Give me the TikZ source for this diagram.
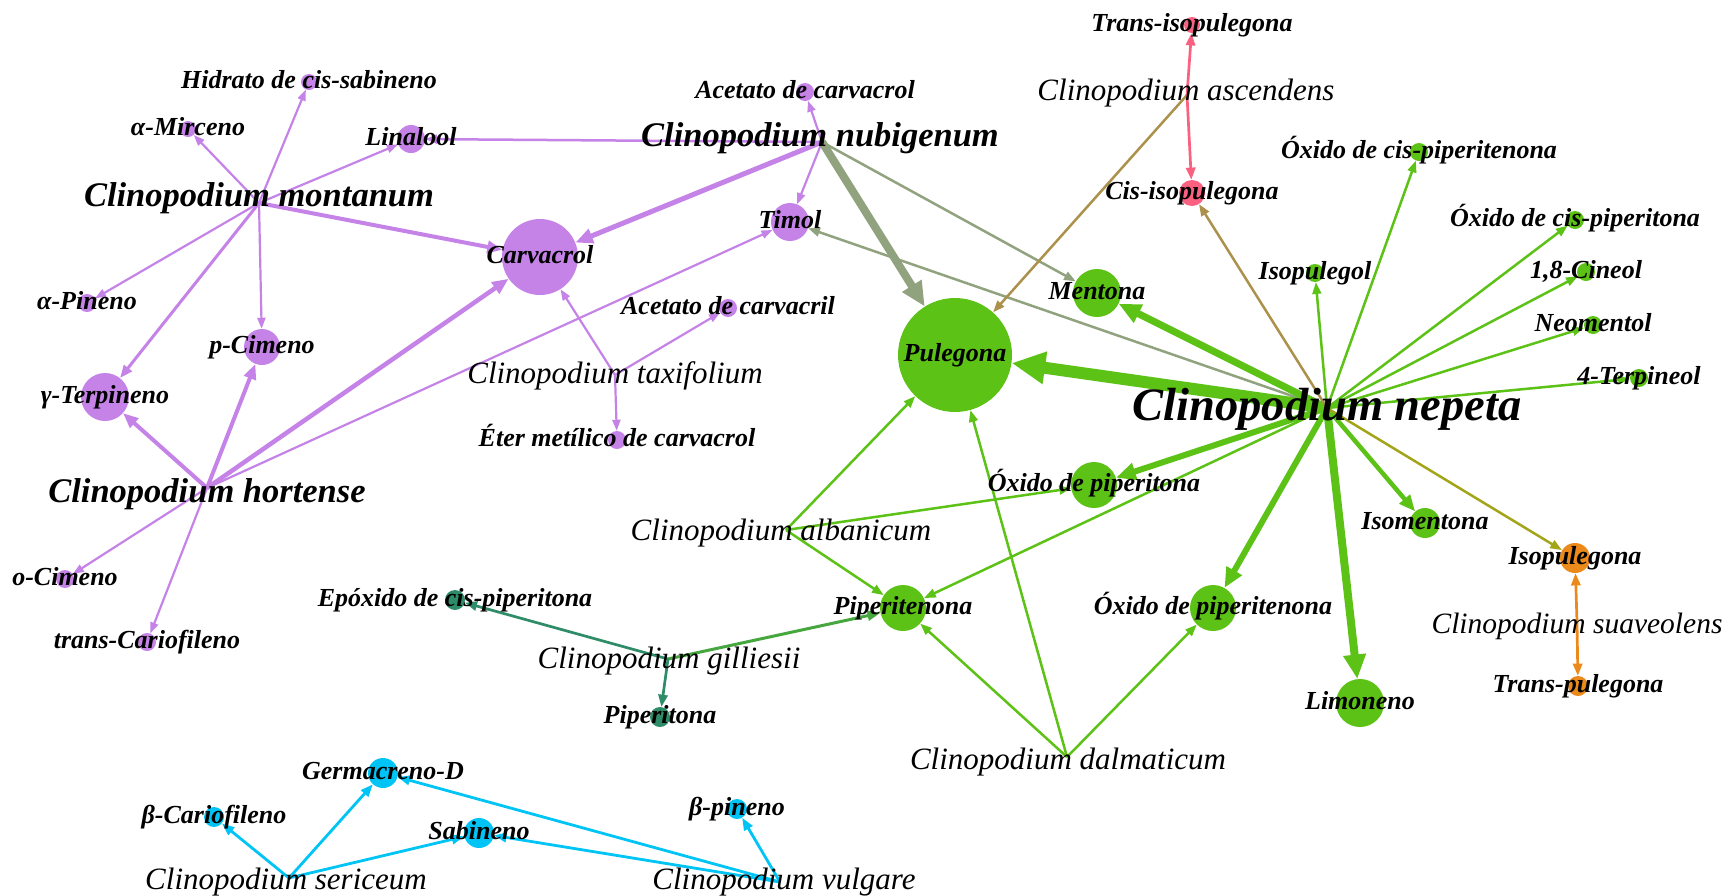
\documentclass[tikz,border=0pt]{standalone}
\usepackage{fontspec}
\setmainfont{Liberation Serif}
\usetikzlibrary{arrows.meta}
\definecolor{cP}{RGB}{197,131,232}
\definecolor{cG}{RGB}{92,194,22}
\definecolor{cK}{RGB}{250,96,128}
\definecolor{cO}{RGB}{235,137,26}
\definecolor{cT}{RGB}{47,140,104}
\definecolor{cC}{RGB}{0,196,245}
\colorlet{cPG}{cP!50!cG}
\colorlet{cKG}{cK!50!cG}
\colorlet{cOG}{cO!50!cG}
\colorlet{cTG}{cT!50!cG}
\begin{document}
\begin{tikzpicture}[x=1pt,y=-1pt,
  cn/.style 2 args={circle,fill=#1,draw=none,inner sep=0pt,minimum size=2*#2},
  ed/.style={line width=#1,-{Triangle[length=6pt 2.3,width=3pt 2.3]}},
  cl/.style={anchor=mid,inner sep=0pt,yshift=-4.5pt,font=\fontsize{26}{30}\selectfont\bfseries\itshape},
  sl/.style={anchor=mid,inner sep=0pt,yshift=-7pt,font=\fontsize{31}{36}\selectfont\itshape},
  bl/.style={anchor=mid,inner sep=0pt,yshift=-7.5pt,font=\fontsize{34.5}{40}\selectfont\bfseries\itshape},
  nl/.style={anchor=mid,inner sep=0pt,yshift=-10pt,font=\fontsize{46.5}{52}\selectfont\bfseries\itshape}]
\useasboundingbox (0,0) rectangle (1729,895);
% ---------- hubs ----------
\coordinate (mont) at (259,203);
\coordinate (hort) at (207,488);
\coordinate (nubi) at (822,142);
\coordinate (taxi) at (615,375);
\coordinate (nep) at (1327,408);
\coordinate (alb) at (786,530);
\coordinate (dal) at (1067,757);
\coordinate (suav) at (1577,622);
\coordinate (asc) at (1187,95);
\coordinate (gil) at (668,659);
\coordinate (ser) at (289,878);
\coordinate (vul) at (780,882);
% ---------- compound circles ----------
\node[cn={cP}{8}] (hid) at (309,82) {};
\node[cn={cP}{8}] (mir) at (188,129) {};
\node[cn={cP}{14}] (lin) at (411,139) {};
\node[cn={cP}{38}] (carv) at (540,257) {};
\node[cn={cP}{9}] (pin) at (87,303) {};
\node[cn={cP}{18}] (pcim) at (262,347) {};
\node[cn={cP}{24}] (gter) at (105,397) {};
\node[cn={cP}{9}] (ocim) at (65,579) {};
\node[cn={cP}{9}] (tcar) at (147,642) {};
\node[cn={cP}{9}] (acol) at (805,92) {};
\node[cn={cP}{19}] (tim) at (790,222) {};
\node[cn={cP}{9}] (acil) at (728,308) {};
\node[cn={cP}{9}] (eter) at (617,440) {};
\node[cn={cG}{57}] (pul) at (955,355) {};
\node[cn={cG}{24}] (men) at (1097,293) {};
\node[cn={cG}{9}] (ocpn) at (1419,152) {};
\node[cn={cG}{9}] (isog) at (1315,273) {};
\node[cn={cG}{9}] (ocpa) at (1575,220) {};
\node[cn={cG}{9}] (cin) at (1586,272) {};
\node[cn={cG}{9}] (neo) at (1593,325) {};
\node[cn={cG}{9}] (terp) at (1639,378) {};
\node[cn={cG}{23}] (opa) at (1094,485) {};
\node[cn={cG}{15}] (isom) at (1425,523) {};
\node[cn={cG}{23}] (ptn) at (903,608) {};
\node[cn={cG}{23}] (opn) at (1213,608) {};
\node[cn={cG}{24}] (lim) at (1360,703) {};
\node[cn={cO}{15}] (isp) at (1575,558) {};
\node[cn={cO}{10}] (tpul) at (1578,686) {};
\node[cn={cK}{8}] (tiso) at (1192,25) {};
\node[cn={cK}{13}] (ciso) at (1192,193) {};
\node[cn={cT}{10}] (epo) at (455,600) {};
\node[cn={cT}{10}] (ptona) at (660,717) {};
\node[cn={cC}{15}] (ger) at (383,773) {};
\node[cn={cC}{10}] (bcar) at (214,817) {};
\node[cn={cC}{15}] (sab) at (479,833) {};
\node[cn={cC}{10}] (bpin) at (737,809) {};
% ---------- edges ----------
\begin{scope}[cP]
\draw[ed=2.2] (mont) -- (hid);
\draw[ed=2.2] (mont) -- (mir);
\draw[ed=2.2] (mont) -- (lin);
\draw[ed=4] (mont) -- (carv);
\draw[ed=2.2] (mont) -- (pin);
\draw[ed=2.2] (mont) -- (pcim);
\draw[ed=3] (mont) -- (gter);
\draw[ed=4] (hort) -- (gter);
\draw[ed=4] (hort) -- (pcim);
\draw[ed=4.5] (hort) -- (carv);
\draw[ed=2.2] (hort) -- (tim);
\draw[ed=2.2] (hort) -- (ocim);
\draw[ed=2.2] (hort) -- (tcar);
\draw[ed=2.5] (nubi) -- (lin);
\draw[ed=2.2] (nubi) -- (acol);
\draw[ed=5] (nubi) -- (carv);
\draw[ed=2.2] (nubi) -- (tim);
\draw[ed=2.2] (taxi) -- (carv);
\draw[ed=2.2] (taxi) -- (acil);
\draw[ed=2.2] (taxi) -- (eter);
\end{scope}
\begin{scope}[cPG]
\draw[ed=8] (nubi) -- (pul);
\draw[ed=2.5] (nubi) -- (men);
\draw[ed=2.5] (nep) -- (tim);
\end{scope}
\begin{scope}[cG]
\draw[ed=12] (nep) -- (pul);
\draw[ed=7] (nep) -- (men);
\draw[ed=2.5] (nep) -- (isog);
\draw[ed=2.5] (nep) -- (ocpn);
\draw[ed=2.5] (nep) -- (ocpa);
\draw[ed=2.5] (nep) -- (cin);
\draw[ed=2.5] (nep) -- (neo);
\draw[ed=2.5] (nep) -- (terp);
\draw[ed=6] (nep) -- (opa);
\draw[ed=2.5] (nep) -- (ptn);
\draw[ed=6] (nep) -- (opn);
\draw[ed=8] (nep) -- (lim);
\draw[ed=4.5] (nep) -- (isom);
\draw[ed=2.5] (alb) -- (pul);
\draw[ed=2.5] (alb) -- (opa);
\draw[ed=2.5] (alb) -- (ptn);
\draw[ed=2.5] (dal) -- (pul);
\draw[ed=2.5] (dal) -- (ptn);
\draw[ed=2.5] (dal) -- (opn);
\end{scope}
\draw[ed=2.5,cKG] (nep) -- (ciso);
\draw[ed=2.5,cKG] (asc) -- (pul);
\draw[ed=2.5,cOG] (nep) -- (isp);
\draw[ed=3,cTG] (gil) -- (ptn);
\begin{scope}[cK]
\draw[ed=2.7] (asc) -- (tiso);
\draw[ed=2.7] (asc) -- (ciso);
\end{scope}
\begin{scope}[cO]
\draw[ed=2.7] (suav) -- (isp);
\draw[ed=2.7] (suav) -- (tpul);
\end{scope}
\begin{scope}[cT]
\draw[ed=2.7] (gil) -- (epo);
\draw[ed=2.7] (gil) -- (ptona);
\end{scope}
\begin{scope}[cC]
\draw[ed=2.8] (ser) -- (bcar);
\draw[ed=2.8] (ser) -- (ger);
\draw[ed=2.8] (ser) -- (sab);
\draw[ed=2.8] (vul) -- (ger);
\draw[ed=2.8] (vul) -- (sab);
\draw[ed=2.8] (vul) -- (bpin);
\end{scope}
% ---------- labels ----------
\node[cl] (hidL) at (hid) {Hidrato de cis-sabineno};
\node[cl] (mirL) at (mir) {α-Mirceno};
\node[cl] (linL) at (lin) {Linalool};
\node[cl] (carvL) at (carv) {Carvacrol};
\node[cl] (pinL) at (pin) {α-Pineno};
\node[cl] (pcimL) at (pcim) {p-Cimeno};
\node[cl] (gterL) at (gter) {γ-Terpineno};
\node[cl] (ocimL) at (ocim) {o-Cimeno};
\node[cl] (tcarL) at (tcar) {trans-Cariofileno};
\node[cl] (acolL) at (acol) {Acetato de carvacrol};
\node[cl] (timL) at (tim) {Timol};
\node[cl] (acilL) at (acil) {Acetato de carvacril};
\node[cl] (eterL) at (eter) {Éter metílico de carvacrol};
\node[cl] (pulL) at (pul) {Pulegona};
\node[cl] (menL) at (men) {Mentona};
\node[cl] (ocpnL) at (ocpn) {Óxido de cis-piperitenona};
\node[cl] (isogL) at (isog) {Isopulegol};
\node[cl] (ocpaL) at (ocpa) {Óxido de cis-piperitona};
\node[cl] (cinL) at (cin) {1,8-Cineol};
\node[cl] (neoL) at (neo) {Neomentol};
\node[cl] (terpL) at (terp) {4-Terpineol};
\node[cl] (opaL) at (opa) {Óxido de piperitona};
\node[cl] (isomL) at (isom) {Isomentona};
\node[cl] (ptnL) at (ptn) {Piperitenona};
\node[cl] (opnL) at (opn) {Óxido de piperitenona};
\node[cl] (limL) at (lim) {Limoneno};
\node[cl] (ispL) at (isp) {Isopulegona};
\node[cl] (tpulL) at (tpul) {Trans-pulegona};
\node[cl] (tisoL) at (tiso) {Trans-isopulegona};
\node[cl] (cisoL) at (ciso) {Cis-isopulegona};
\node[cl] (epoL) at (epo) {Epóxido de cis-piperitona};
\node[cl] (ptonaL) at (ptona) {Piperitona};
\node[cl] (gerL) at (ger) {Germacreno-D};
\node[cl] (bcarL) at (bcar) {β-Cariofileno};
\node[cl] (sabL) at (sab) {Sabineno};
\node[cl] (bpinL) at (bpin) {β-pineno};
\node[bl] (montL) at (259,197) {Clinopodium montanum};
\node[bl] (hortL) at (207,493) {Clinopodium hortense};
\node[bl] (nubiL) at (820,137) {Clinopodium nubigenum};
\node[nl] (nepL) at (1327,408) {Clinopodium nepeta};
\node[sl] (taxiL) at (615,374) {Clinopodium taxifolium};
\node[sl] (albL) at (781,531) {Clinopodium albanicum};
\node[sl] (dalL) at (1068,760) {Clinopodium dalmaticum};
\node[sl,font=\fontsize{29.5}{34}\selectfont\itshape] (suavL) at (1577,624) {Clinopodium suaveolens};
\node[sl] (ascL) at (1186,91) {Clinopodium ascendens};
\node[sl] (gilL) at (669,659) {Clinopodium gilliesii};
\node[sl] (serL) at (286,880) {Clinopodium sericeum};
\node[sl] (vulL) at (784,880) {Clinopodium vulgare};
\end{tikzpicture}
\end{document}
